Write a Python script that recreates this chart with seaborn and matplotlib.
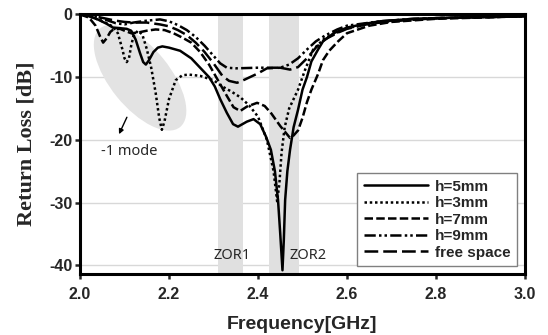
import matplotlib
matplotlib.use("Agg")
import matplotlib.pyplot as plt
import matplotlib.transforms as mtransforms
from matplotlib.patches import Ellipse
import seaborn as sns
import pandas as pd

# values
freq_h5 = [2.0, 2.02, 2.04, 2.06, 2.074, 2.09, 2.105, 2.115, 2.125, 2.135, 2.142, 2.148,
           2.155, 2.165, 2.175, 2.185, 2.2, 2.225, 2.25, 2.27, 2.29, 2.303, 2.315, 2.33,
           2.344, 2.355, 2.375, 2.39, 2.405, 2.418, 2.429, 2.438, 2.445, 2.45, 2.455,
           2.458, 2.461, 2.466, 2.472, 2.48, 2.49, 2.5, 2.51, 2.52, 2.535, 2.546, 2.57,
           2.6, 2.64, 2.674, 2.75, 2.85, 3.0]
rl_h5 = [0, -0.3, -0.8, -1.5, -2.1, -2.2, -2.3, -2.6, -4.0, -6.2, -7.6, -8.0,
         -7.3, -6.0, -5.3, -5.1, -5.3, -5.8, -7.0, -8.5, -10.0, -11.5, -13.5, -15.7,
         -17.5, -17.9, -17.1, -16.7, -17.5, -19.5, -21.6, -25.0, -29.6, -35.0, -40.8,
         -36.0, -29.6, -25.0, -21.6, -18.0, -15.2, -12.0, -10.0, -7.5, -5.6, -4.3, -3.0,
         -2.1, -1.5, -1.1, -0.7, -0.5, -0.3]

freq_h3 = [2.0, 2.02, 2.04, 2.06, 2.075, 2.085, 2.095, 2.1, 2.105, 2.11, 2.115, 2.12,
           2.13, 2.14, 2.15, 2.16, 2.17, 2.178, 2.184, 2.19, 2.2, 2.215, 2.23, 2.245,
           2.27, 2.3, 2.32, 2.34, 2.36, 2.38, 2.4, 2.42, 2.435, 2.443, 2.448, 2.453,
           2.46, 2.47, 2.49, 2.506, 2.524, 2.55, 2.6, 2.65, 2.7, 2.8, 2.9, 3.0]
rl_h3 = [0, -0.3, -0.8, -1.4, -2.0, -3.0, -5.5, -7.0, -7.6, -7.0, -5.0, -3.5,
         -2.6, -3.2, -5.5, -8.5, -12.5, -16.5, -18.4, -17.0, -13.5, -10.5, -9.7, -9.6,
         -9.8, -10.5, -11.5, -12.3, -13.2, -14.5, -16.3, -20.0, -25.0, -29.8, -27.0, -22.0,
         -18.0, -15.0, -12.0, -8.8, -5.6, -3.8, -2.2, -1.5, -1.0, -0.6, -0.45, -0.3]

freq_h7 = [2.0, 2.02, 2.035, 2.045, 2.052, 2.06, 2.068, 2.075, 2.09, 2.1, 2.115, 2.13,
           2.15, 2.17, 2.19, 2.21, 2.23, 2.25, 2.27, 2.29, 2.31, 2.33, 2.345, 2.36,
           2.375, 2.398, 2.415, 2.43, 2.45, 2.472, 2.48, 2.49, 2.5, 2.51, 2.52, 2.535,
           2.546, 2.56, 2.58, 2.6, 2.65, 2.7, 2.8, 2.9, 3.0]
rl_h7 = [0, -0.5, -1.8, -3.5, -4.5, -3.8, -2.8, -2.4, -2.3, -2.6, -3.0, -2.9,
         -2.6, -2.4, -2.5, -3.0, -3.7, -4.5, -6.0, -8.0, -10.5, -13.0, -14.8, -15.4,
         -14.7, -14.1, -14.6, -15.8, -17.8, -19.7, -19.3, -18.5, -16.5, -14.0, -12.0, -9.5,
         -7.3, -5.8, -4.3, -3.0, -1.8, -1.2, -0.7, -0.5, -0.3]

freq_h9 = [2.0, 2.03, 2.06, 2.08, 2.1, 2.12, 2.15, 2.18, 2.2, 2.22, 2.24, 2.26,
           2.28, 2.3, 2.315, 2.33, 2.35, 2.4, 2.45, 2.47, 2.49, 2.51, 2.53, 2.55,
           2.578, 2.6, 2.674, 2.75, 2.85, 3.0]
rl_h9 = [0, -0.3, -0.9, -1.4, -1.6, -1.3, -1.0, -0.8, -1.1, -1.7, -2.5, -3.6,
         -5.0, -6.6, -7.8, -8.5, -8.6, -8.5, -8.5, -8.0, -7.0, -5.6, -4.3, -3.4,
         -2.4, -1.8, -1.1, -0.7, -0.5, -0.3]

freq_fs = [2.0, 2.04, 2.08, 2.1, 2.12, 2.15, 2.18, 2.2, 2.22, 2.24, 2.26, 2.28,
           2.3, 2.32, 2.335, 2.353, 2.37, 2.385, 2.4, 2.42, 2.45, 2.472, 2.49, 2.51,
           2.53, 2.55, 2.58, 2.6, 2.65, 2.7, 2.8, 3.0]
rl_fs = [0, -0.4, -1.0, -1.2, -1.3, -1.3, -1.6, -1.9, -2.5, -3.3, -4.5, -6.0,
         -7.8, -9.8, -10.6, -10.9, -10.4, -9.9, -9.4, -8.6, -8.5, -8.8, -8.4, -7.0,
         -5.3, -4.0, -2.9, -2.3, -1.5, -1.1, -0.6, -0.3]

series_names = ["h=5mm", "h=3mm", "h=7mm", "h=9mm", "free space"]
zor_bands = [(2.31, 2.366), (2.425, 2.492)]
zor_labels = ["ZOR1", "ZOR2"]
zor_label_x = [2.342, 2.512]

frames = []
for name, f, r in zip(series_names,
                      [freq_h5, freq_h3, freq_h7, freq_h9, freq_fs],
                      [rl_h5, rl_h3, rl_h7, rl_h9, rl_fs]):
    frames.append(pd.DataFrame({"freq": f, "rl": r, "series": name}))
df = pd.concat(frames, ignore_index=True)

sns.set_style("white")
plt.rcParams["font.family"] = ["Liberation Sans", "DejaVu Sans"]

fig = plt.figure(figsize=(5.48, 3.35), dpi=100)
ax = fig.add_axes([0.146, 0.182, 0.812, 0.775])

# grey bands and the -1 mode region
for lo, hi in zor_bands:
    ax.axvspan(lo, hi, color="#e0e0e0", lw=0, zorder=1)

ell_tr = fig.dpi_scale_trans + mtransforms.ScaledTranslation(2.135, -10.1, ax.transData)
ax.add_patch(Ellipse((0, 0), 1.27, 0.60, angle=-51, transform=ell_tr,
                     facecolor="#e3e3e3", edgecolor="none", zorder=1))

dash_map = {
    "h=5mm": "",
    "h=3mm": (1, 1.1),
    "h=7mm": (3.4, 1.3),
    "h=9mm": (4.5, 1.3, 1, 1.2, 1, 1.3),
    "free space": (5.5, 2.0),
}
sns.lineplot(data=df, x="freq", y="rl", style="series", dashes=dash_map,
             color="black", linewidth=1.8, estimator=None, sort=False, ax=ax, zorder=3)

ax.set_xlim(2.0, 3.0)
ax.set_ylim(-41.4, 0)
ax.set_xticks([2.0, 2.2, 2.4, 2.6, 2.8, 3.0])
ax.set_yticks([0, -10, -20, -30, -40])
ax.set_xticklabels(["2.0", "2.2", "2.4", "2.6", "2.8", "3.0"])
ax.set_yticklabels(["0", "-10", "-20", "-30", "-40"])
ax.yaxis.grid(True, color="#d8d8d8", lw=1.0, zorder=0)
ax.set_axisbelow(True)
for sp in ax.spines.values():
    sp.set_linewidth(2.2)
    sp.set_color("black")
    sp.set_zorder(5)
ax.tick_params(axis="x", direction="out", length=3.5, width=1.8, labelsize=11.5, pad=6,
               bottom=True)
ax.tick_params(axis="y", direction="out", length=3.5, width=1.8, labelsize=11.5, pad=2,
               left=True)
for lab in ax.get_xticklabels() + ax.get_yticklabels():
    lab.set_fontweight("bold")

ax.set_xlabel("Frequency[GHz]", fontsize=14, fontweight="bold", labelpad=10)
ax.set_ylabel("Return Loss [dB]", fontsize=16, fontweight="bold",
              family=["Liberation Serif", "DejaVu Serif"], labelpad=9)

for x, lab in zip(zor_label_x, zor_labels):
    ax.text(x, -38.4, lab, ha="center", va="center", fontsize=10.5,
            family=["Noto Sans", "DejaVu Sans"], zorder=4)
ax.text(2.110, -21.9, "-1 mode", ha="center", va="center", fontsize=10.5,
        family=["Noto Sans", "DejaVu Sans"], zorder=4)
ax.annotate("", xy=(2.085, -19.5), xytext=(2.108, -16.0),
            arrowprops=dict(arrowstyle="-|>", color="black", lw=1.0, mutation_scale=7),
            zorder=4)

handles, labels = ax.get_legend_handles_labels()
leg = ax.legend(handles, labels, loc="lower right", frameon=True,
                fancybox=False, edgecolor="#808080", framealpha=1, handlelength=4.2,
                handletextpad=0.45, labelspacing=0.16, borderpad=0.45,
                borderaxespad=0.5, prop={"weight": "bold", "size": 11})
leg.get_frame().set_linewidth(1.0)
leg.set_zorder(6)

fig.savefig("out.png", dpi=100)
